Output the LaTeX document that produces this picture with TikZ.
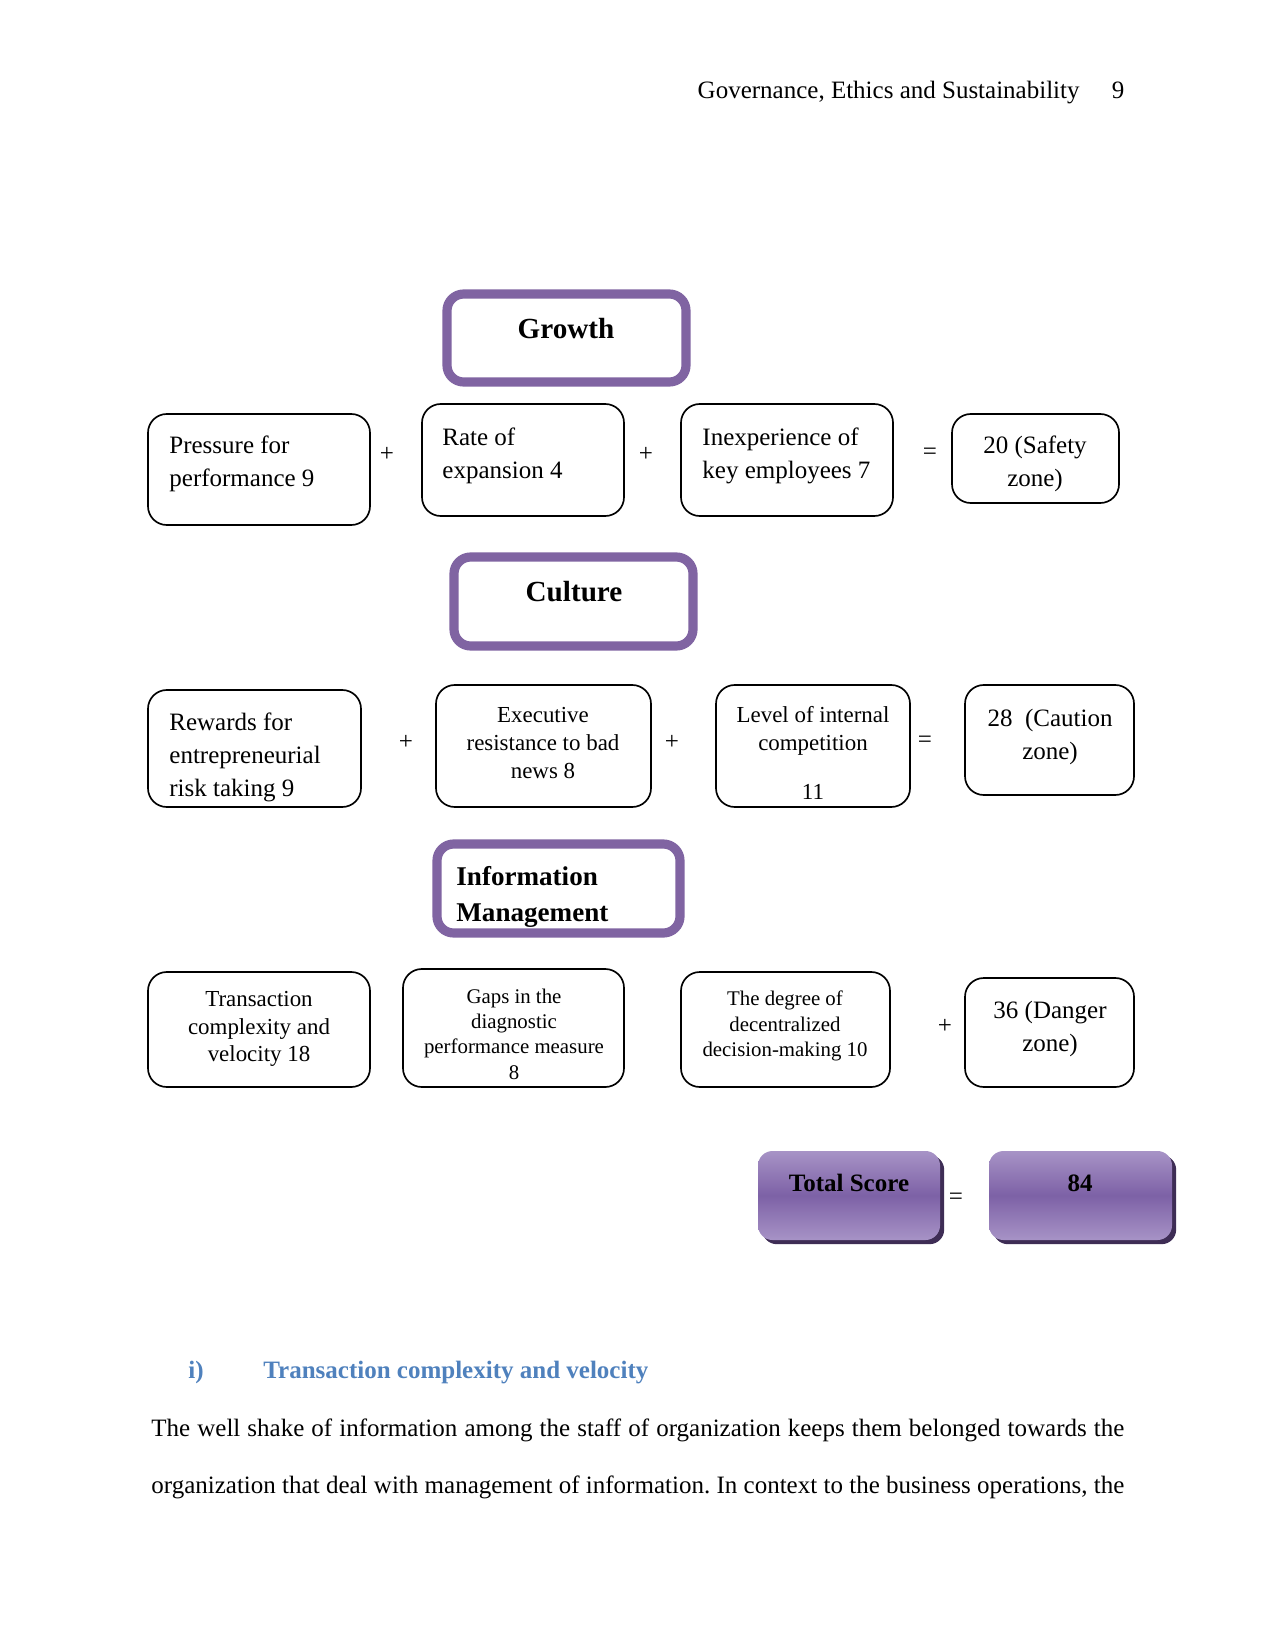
\documentclass[tikz,border=0pt]{standalone}
\usepackage{fontspec}
\setmainfont{Liberation Serif}
\usetikzlibrary{calc, fit, shadows}
\frenchspacing

\definecolor{catpurple}{HTML}{8064A2}
\definecolor{headblue}{HTML}{4F81BD}
\definecolor{scorelight}{HTML}{A793C6}
\definecolor{scoredark}{HTML}{7D61A6}
\definecolor{scoreshadow}{HTML}{3E2D55}

\begin{document}
\begin{tikzpicture}[x=0.48pt, y=-0.48pt,
  plainbox/.style={draw, line width=0.8pt, rounded corners=9pt, inner sep=0pt},
  catbox/.style={draw=catpurple, line width=4.4pt, rounded corners=8pt, inner sep=0pt},
  scorebox/.style={rounded corners=7pt, inner sep=0pt, top color=scorelight, bottom color=scorelight,
    middle color=scoredark, drop shadow={shadow xshift=2pt, shadow yshift=-2pt, fill=scoreshadow, opacity=1}},
  txt/.style={inner sep=0pt, font=\fontsize{12}{15.8}\selectfont},
  midtxt/.style={inner sep=0pt, align=center, font=\fontsize{11}{13.3}\selectfont},
  smalltxt/.style={inner sep=0pt, align=center, font=\fontsize{10}{12.2}\selectfont},
  cattxt/.style={inner sep=0pt, align=left, font=\bfseries\fontsize{14}{17.3}\selectfont},
  headtxt/.style={inner sep=0pt, text=headblue, font=\bfseries\fontsize{12}{14}\selectfont}]
  % page of 1275 x 1651 px, 1 px = 0.48 pt
  \fill[white] (0,0) rectangle (1275,1651);
  \useasboundingbox (0,0) rectangle (1275,1651);

  \node[txt, anchor=base east] (runhead) at (1080,99) {Governance, Ethics and Sustainability};
  \node[txt, anchor=base] (pagenum) at (1118,99) {9};

  % growth
  \node[catbox, fit={(447,294) (686,382)}] (growth) {};
  \node[cattxt] (growth-t) at (566,329) {Growth};
  \node[plainbox, fit={(148,414) (370,525)}] (press) {};
  \node[txt, align=left, anchor=west] (press-t) at (169,464) {Pressure for\\performance 9};
  \node[plainbox, fit={(422,404) (624,516)}] (rate) {};
  \node[txt, align=left, anchor=west] (rate-t) at (442,456) {Rate of\\expansion 4};
  \node[plainbox, fit={(681,404) (893,516)}] (inexp) {};
  \node[txt, align=left, anchor=west] (inexp-t) at (702,456) {Inexperience of\\key employees 7};
  \node[plainbox, fit={(952,414) (1119,503)}] (safe) {};
  \node[txt, align=center] (safe-t) at (1035,464) {20 (Safety\\zone)};
  \node[txt] (op1) at (387,454) {+};
  \node[txt] (op2) at (646,454) {+};
  \node[txt] (op3) at (930,454) {=};

  % culture
  \node[catbox, fit={(454,557) (693,646)}] (culture) {};
  \node[cattxt] (culture-t) at (574,592) {Culture};
  \node[plainbox, fit={(148,690) (361,807)}] (reward) {};
  \node[txt, align=left, anchor=west] (reward-t) at (169,757) {Rewards for\\entrepreneurial\\risk taking 9};
  \node[plainbox, fit={(436,685) (651,807)}] (exec) {};
  \node[midtxt] (exec-t) at (543,743) {Executive\\resistance to bad\\news 8};
  \node[plainbox, fit={(716,685) (910,807)}] (level) {};
  \node[midtxt] (level-t) at (813,753) {Level of internal\\competition\\[10pt]11};
  \node[plainbox, fit={(965,685) (1134,795)}] (caution) {};
  \node[txt, align=center] (caution-t) at (1050,737) {28~ (Caution\\zone)};
  \node[txt] (op4) at (406,742) {+};
  \node[txt] (op5) at (672,742) {+};
  \node[txt] (op6) at (925,742) {=};

  % information management
  \node[catbox, fit={(437,844) (680,933)}] (info) {};
  \node[cattxt, anchor=west, font=\bfseries\fontsize{13}{17.3}\selectfont] (info-t) at (456,897) {Information\\Management};
  \node[plainbox, fit={(148,972) (370,1087)}] (trans) {};
  \node[midtxt] (trans-t) at (259,1029) {Transaction\\complexity and\\velocity 18};
  \node[plainbox, fit={(403,969) (624,1087)}] (gaps) {};
  \node[smalltxt] (gaps-t) at (514,1034) {Gaps in the\\diagnostic\\performance measure\\8};
  \node[plainbox, fit={(681,972) (890,1087)}] (degree) {};
  \node[smalltxt] (degree-t) at (785,1026) {The degree of\\decentralized\\decision-making 10};
  \node[plainbox, fit={(965,978) (1134,1087)}] (danger) {};
  \node[txt, align=center] (danger-t) at (1050,1029) {36 (Danger\\zone)};
  \node[txt] (op7) at (945,1026) {+};

  % total
  \node[scorebox, fit={(758,1151) (940,1240)}] (total) {};
  \node[txt, font=\bfseries\fontsize{12}{14}\selectfont] (total-t) at (849,1183) {Total Score};
  \node[scorebox, fit={(989,1151) (1172,1240)}] (score) {};
  \node[txt, font=\bfseries\fontsize{12}{14}\selectfont] (score-t) at (1080,1183) {84};
  \node[txt] (op8) at (956,1199) {=};

  \node[headtxt, anchor=base west] (secnum) at (188,1378) {i)};
  \node[headtxt, anchor=base west] (sectitle) at (263,1378) {Transaction complexity and velocity};
  \node[txt, anchor=base west] (body1) at (151,1436)
    {\makebox[467pt][s]{The well shake of information among the staff of organization keeps them belonged towards the}};
  \node[txt, anchor=base west] (body2) at (151,1493)
    {\makebox[467pt][s]{organization that deal with management of information. In context to the business operations, the}};
\end{tikzpicture}
\end{document}
